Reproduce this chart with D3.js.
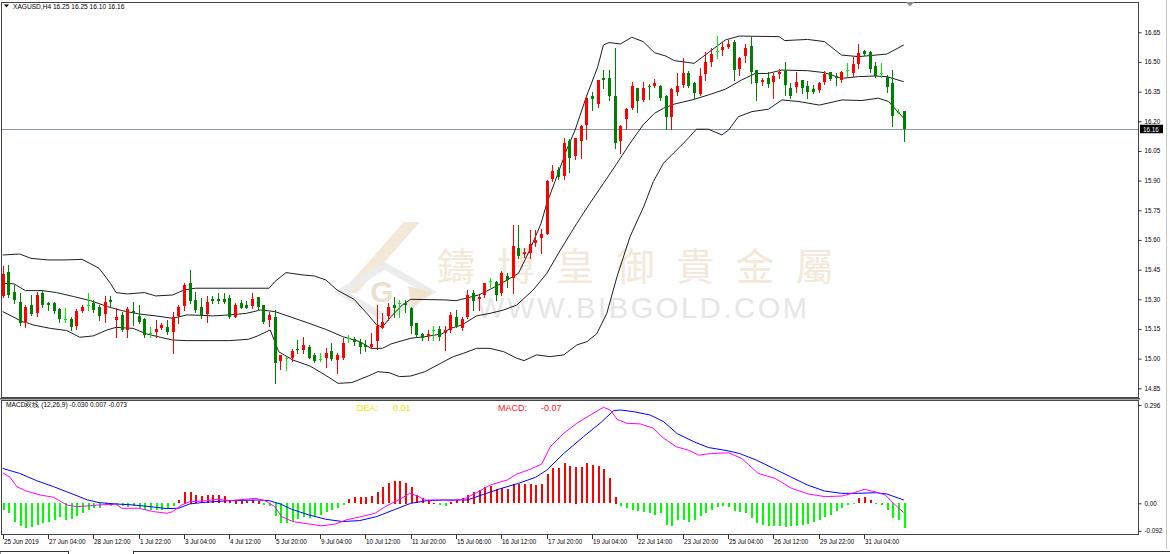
<!DOCTYPE html>
<html><head><meta charset="utf-8">
<script src="https://cdn.jsdelivr.net/npm/d3@7"></script>
<style>html,body{margin:0;padding:0;background:#fff;overflow:hidden}svg{display:block}</style>
</head><body>
<svg id="c" width="1170" height="554"></svg>
<script>
// ---------- DATA ----------
const symbolTitle = "XAGUSD,H4  16.25 16.25 16.10 16.16";
const macdTitle = "MACD双线 (12,26,9) -0.030 0.007 -0.073";
const lastPrice = 16.16;
const deaValueLabel = "0.01";
const macdValueLabel = "-0.07";

const opens = [15.32,15.437,15.339,15.288,15.187,15.271,15.233,15.33,15.283,15.283,15.25,15.202,15.199,15.165,15.243,15.271,15.283,15.263,15.226,15.297,
15.192,15.221,15.145,15.241,15.216,15.199,15.128,15.131,15.153,15.158,15.131,15.216,15.266,15.381,15.297,15.263,15.226,15.30,15.30,15.30,
15.305,15.212,15.283,15.271,15.266,15.31,15.271,15.196,15.209,14.99,15.002,15.002,15.047,15.044,15.061,15.019,15.00,15.002,15.04,14.993,
15.002,15.106,15.098,15.086,15.069,15.061,15.091,15.158,15.216,15.271,15.28,15.28,15.255,15.179,15.123,15.111,15.145,15.148,15.128,15.145,
15.209,15.157,15.209,15.33,15.303,15.322,15.39,15.386,15.33,15.418,15.406,15.558,15.529,15.533,15.587,15.608,15.634,15.912,15.954,15.92,
16.102,16.025,16.10,16.182,16.328,16.288,16.417,16.417,16.328,16.10,16.21,16.266,16.367,16.308,16.379,16.379,16.379,16.328,16.22,16.35,
16.384,16.446,16.392,16.338,16.439,16.502,16.557,16.557,16.577,16.603,16.463,16.527,16.581,16.459,16.40,16.417,16.40,16.44,16.456,16.367,
16.375,16.409,16.379,16.363,16.358,16.40,16.451,16.429,16.409,16.459,16.446,16.493,16.557,16.552,16.48,16.442,16.426,16.392,16.249,16.25];

const highs = [15.47,15.474,15.37,15.33,15.271,15.32,15.339,15.347,15.288,15.288,15.255,15.255,15.212,15.25,15.27,15.33,15.297,15.271,15.317,15.317,
15.255,15.238,15.26,15.288,15.271,15.204,15.158,15.196,15.179,15.196,15.238,15.271,15.384,15.448,15.339,15.305,15.317,15.317,15.33,15.33,
15.322,15.283,15.297,15.29,15.33,15.313,15.271,15.238,15.246,15.019,15.01,15.047,15.094,15.111,15.069,15.027,15.027,15.052,15.078,15.027,
15.103,15.12,15.111,15.098,15.094,15.128,15.271,15.233,15.283,15.31,15.297,15.297,15.263,15.179,15.128,15.145,15.165,15.165,15.165,15.238,
15.246,15.212,15.347,15.347,15.322,15.384,15.406,15.39,15.445,15.431,15.676,15.676,15.558,15.651,15.651,15.654,15.903,15.979,15.971,16.114,
16.109,16.114,16.182,16.325,16.35,16.409,16.459,16.459,16.569,16.182,16.266,16.40,16.367,16.40,16.389,16.412,16.384,16.333,16.367,16.442,
16.518,16.456,16.40,16.471,16.552,16.569,16.631,16.603,16.611,16.611,16.527,16.591,16.628,16.459,16.417,16.451,16.442,16.463,16.502,16.392,
16.451,16.409,16.405,16.384,16.40,16.456,16.451,16.442,16.456,16.493,16.527,16.591,16.56,16.557,16.502,16.493,16.434,16.459,16.26,16.252];

const lows = [15.31,15.313,15.28,15.17,15.158,15.22,15.216,15.263,15.246,15.233,15.187,15.187,15.145,15.148,15.238,15.246,15.238,15.196,15.187,15.263,
15.108,15.142,15.108,15.17,15.182,15.111,15.111,15.111,15.148,15.125,15.027,15.179,15.246,15.283,15.238,15.204,15.187,15.28,15.28,15.28,
15.204,15.209,15.255,15.255,15.255,15.246,15.182,15.165,14.875,14.95,14.943,14.99,15.027,15.03,15.002,14.985,14.99,14.956,14.993,14.926,
14.997,15.086,15.069,15.027,15.04,15.052,15.047,15.153,15.196,15.209,15.212,15.238,15.128,15.111,15.094,15.094,15.094,15.094,15.044,15.137,
15.16,15.145,15.205,15.246,15.246,15.313,15.364,15.297,15.322,15.364,15.33,15.507,15.516,15.507,15.57,15.536,15.63,15.90,15.907,15.907,
15.945,16.008,16.013,16.109,16.257,16.274,16.367,16.308,16.063,16.038,16.16,16.261,16.249,16.305,16.311,16.375,16.308,16.16,16.16,16.333,
16.375,16.372,16.317,16.333,16.409,16.48,16.518,16.535,16.569,16.409,16.434,16.502,16.392,16.308,16.384,16.375,16.317,16.417,16.333,16.317,
16.35,16.341,16.317,16.341,16.35,16.389,16.409,16.384,16.40,16.429,16.429,16.468,16.535,16.451,16.426,16.426,16.35,16.176,16.24,16.10];

const closes = [15.43,15.322,15.297,15.182,15.263,15.226,15.322,15.268,15.271,15.241,15.199,15.202,15.157,15.243,15.263,15.271,15.246,15.216,15.287,15.287,
15.209,15.145,15.25,15.229,15.187,15.116,15.128,15.148,15.17,15.131,15.209,15.263,15.373,15.288,15.246,15.221,15.288,15.288,15.288,15.285,
15.209,15.271,15.26,15.258,15.30,15.26,15.187,15.221,14.976,15.019,15.002,15.039,15.04,15.069,15.007,14.99,15.00,15.027,15.002,15.019,
15.078,15.106,15.081,15.061,15.057,15.074,15.165,15.187,15.263,15.255,15.28,15.268,15.165,15.12,15.103,15.123,15.145,15.108,15.145,15.221,
15.165,15.202,15.322,15.288,15.313,15.381,15.39,15.318,15.431,15.398,15.569,15.516,15.541,15.58,15.60,15.63,15.90,15.95,15.92,16.089,
16.018,16.114,16.178,16.32,16.311,16.409,16.409,16.325,16.089,16.178,16.262,16.379,16.30,16.367,16.372,16.392,16.317,16.22,16.362,16.379,
16.446,16.379,16.341,16.429,16.502,16.54,16.557,16.574,16.591,16.459,16.518,16.569,16.451,16.392,16.409,16.389,16.429,16.451,16.384,16.325,
16.40,16.367,16.35,16.35,16.392,16.439,16.417,16.417,16.451,16.459,16.49,16.547,16.54,16.468,16.429,16.442,16.375,16.227,16.249,16.16];

// Bollinger bands: [bar index, price]
const bbUpper = [[0,15.524],[3,15.529],[5,15.507],[8,15.499],[11,15.499],[14,15.502],[17,15.457],[19,15.381],[20,15.334],[22,15.327],[25,15.334],[27,15.317],[30,15.322],[32,15.347],[34,15.356],[47,15.356],[48,15.389],[50,15.435],[53,15.423],[55,15.418],[57,15.398],[59,15.347],[62,15.30],[64.5,15.221],[66,15.17],[67,15.16],[68.5,15.212],[70.5,15.271],[72,15.30],[78,15.297],[80,15.293],[81,15.30],[84,15.322],[86,15.35],[88,15.381],[91,15.431],[93,15.549],[95,15.684],[96,15.785],[98,15.937],[99.5,16.055],[101,16.156],[103,16.325],[105,16.476],[106,16.586],[107,16.598],[109,16.591],[111,16.625],[113,16.603],[115,16.547],[117,16.53],[118.5,16.507],[122,16.493],[124.5,16.547],[127.5,16.611],[130,16.631],[137,16.628],[138,16.608],[142,16.614],[145,16.603],[148,16.535],[151,16.527],[156,16.54],[159,16.586]];
const bbMiddle = [[0,15.381],[2,15.378],[4,15.344],[7,15.344],[9.5,15.334],[12.5,15.314],[15.5,15.293],[18.5,15.263],[21,15.243],[24,15.226],[27,15.216],[30,15.204],[32.5,15.221],[35,15.219],[37,15.216],[40,15.221],[43,15.229],[45.5,15.246],[48,15.238],[51,15.209],[54,15.179],[57,15.148],[60,15.111],[63,15.086],[65,15.052],[67,15.052],[68.5,15.074],[72,15.103],[74.5,15.111],[77.5,15.125],[79,15.153],[81,15.17],[83.6,15.216],[86,15.229],[88.4,15.246],[90.7,15.271],[93.6,15.347],[96,15.431],[98.4,15.549],[101.3,15.684],[103.6,15.785],[106,15.886],[108.4,15.988],[110.7,16.089],[113,16.182],[115,16.24],[116.6,16.266],[118.5,16.287],[121.6,16.308],[124.5,16.333],[127.5,16.362],[130.4,16.409],[132.8,16.442],[135,16.442],[137.5,16.459],[142,16.456],[145,16.446],[148,16.417],[151,16.426],[154,16.429],[156,16.426],[159,16.40]];
const bbLower = [[0,15.238],[2,15.209],[3.4,15.187],[4.2,15.182],[5.4,15.17],[8.4,15.153],[11.3,15.142],[13.6,15.108],[16,15.115],[18.4,15.145],[20,15.158],[23,15.153],[25.4,15.125],[27.8,15.108],[30,15.094],[32.5,15.091],[40,15.091],[43.4,15.098],[45,15.115],[47.2,15.145],[48.7,15.035],[51.2,14.993],[54.2,14.963],[56.9,14.917],[59.2,14.875],[61.6,14.879],[64.5,14.912],[66.2,14.934],[68.2,14.929],[70,14.909],[72,14.912],[74.5,14.934],[77.5,14.98],[79.5,15.010],[81.3,15.027],[83.6,15.052],[86,15.052],[88.4,15.035],[90.7,15.002],[92,14.99],[94.2,15.019],[96.6,15.01],[99,15.019],[101.3,15.069],[103.1,15.086],[104.8,15.125],[106.6,15.229],[108.4,15.415],[110.7,15.617],[113.1,15.768],[114.8,15.895],[116.6,15.988],[118.4,16.04],[120.4,16.097],[122.4,16.16],[124.5,16.16],[126.9,16.131],[128.1,16.156],[129.8,16.223],[132.2,16.249],[135.1,16.261],[137.5,16.308],[140.5,16.30],[144.1,16.282],[148.1,16.308],[151.6,16.305],[154.5,16.317],[156.3,16.30],[159,16.215]];

// MACD histogram, one value per bar
const macdHist = [-0.020,-0.030,-0.058,-0.070,-0.075,-0.073,-0.065,-0.060,-0.058,-0.050,-0.042,-0.050,-0.048,-0.040,-0.030,-0.020,-0.015,-0.015,-0.006,-0.010,
-0.005,-0.010,-0.013,-0.010,-0.015,-0.020,-0.020,-0.022,-0.020,-0.016,-0.008,0.010,0.035,0.035,0.025,0.022,0.025,0.025,0.025,0.022,
0.010,0.008,0.008,0.007,0.010,0.008,-0.005,-0.010,-0.040,-0.060,-0.060,-0.055,-0.048,-0.042,-0.045,-0.040,-0.035,-0.028,-0.022,-0.015,
-0.005,0.012,0.018,0.020,0.020,0.022,0.035,0.050,0.060,0.068,0.068,0.062,0.048,0.025,0.015,0.008,0.002,-0.005,-0.008,0.005,
0.010,0.015,0.025,0.035,0.040,0.048,0.052,0.042,0.045,0.042,0.058,0.058,0.058,0.058,0.055,0.058,0.088,0.105,0.105,0.120,
0.112,0.110,0.108,0.120,0.115,0.112,0.102,0.075,0.020,-0.010,-0.015,-0.020,-0.025,-0.028,-0.030,-0.035,-0.030,-0.065,-0.068,-0.050,
-0.052,-0.058,-0.050,-0.040,-0.030,-0.020,-0.013,-0.010,-0.012,-0.025,-0.028,-0.030,-0.045,-0.060,-0.065,-0.070,-0.070,-0.068,-0.072,-0.070,
-0.068,-0.066,-0.064,-0.058,-0.052,-0.042,-0.035,-0.025,-0.015,-0.005,-0.002,0.015,0.018,0.010,-0.002,-0.005,-0.020,-0.045,-0.050,-0.075];

// MACD (DIF, magenta) and signal (DEA, blue): [bar index, value]
const difLine = [[0,0.092],[1.3,0.078],[2.5,0.05],[4,0.038],[6.6,0.025],[9,0.018],[11.3,-0.005],[13,-0.010],[15,-0.008],[17,-0.005],[20,-0.003],[21,-0.015],[24,-0.015],[26.6,-0.025],[29,-0.030],[30,-0.025],[31.6,-0.005],[33,0.005],[36,0.008],[38,0.012],[40,0.008],[42.8,0.012],[44.5,0.015],[46.3,0.008],[48,-0.010],[49.2,-0.040],[51.2,-0.055],[53.9,-0.062],[56.3,-0.068],[58.8,-0.062],[60.6,-0.050],[62.8,-0.042],[65.7,-0.030],[67.5,-0.010],[70.4,0.015],[71.8,0.030],[73.2,0.022],[74.5,0.010],[77.5,0.010],[79,0.008],[81.3,0.012],[83.6,0.032],[86,0.055],[89,0.070],[90.7,0.088],[93,0.102],[95.1,0.118],[96.6,0.170],[99,0.211],[101.3,0.241],[103.7,0.266],[106,0.289],[107.2,0.281],[108.4,0.253],[110.1,0.241],[112.5,0.239],[114.8,0.226],[116.6,0.196],[118.9,0.170],[121,0.160],[122.8,0.145],[125.1,0.150],[128.1,0.152],[130.4,0.135],[133.3,0.090],[136.3,0.075],[139.2,0.045],[142.2,0.028],[145.1,0.020],[148.1,0.022],[149.9,0.030],[152,0.042],[153.9,0.035],[155.7,0.025],[157.5,-0.005],[159,-0.028]];
const deaLine = [[0,0.105],[3,0.090],[6,0.068],[9,0.050],[12,0.030],[15,0.010],[17,0.002],[20,-0.002],[23,-0.005],[26,-0.010],[29,-0.016],[31,-0.015],[33,-0.002],[35,0.002],[40,0.008],[45,0.010],[47,0.008],[49,-0.002],[51,-0.018],[54,-0.035],[57,-0.048],[60,-0.055],[63,-0.052],[66,-0.040],[69,-0.020],[72,0.000],[75,0.008],[78,0.010],[82,0.010],[85,0.028],[88,0.045],[91,0.060],[94,0.078],[96,0.100],[99,0.150],[102.5,0.201],[105.4,0.241],[107.8,0.279],[109,0.281],[111.3,0.276],[114.2,0.266],[116.6,0.246],[119,0.21],[122,0.185],[124.5,0.168],[128,0.158],[130,0.150],[133,0.130],[136,0.105],[139,0.080],[142,0.055],[145,0.037],[148,0.030],[151,0.030],[154,0.032],[156,0.028],[159,0.010]];

const priceTicks = [16.65,16.50,16.35,16.20,16.05,15.90,15.75,15.60,15.45,15.30,15.15,15.00,14.85];
const macdTicks = [0.296,0,-0.092];
const macdTickLabels = ["0.296","0.00","-0.092"];
const xLabels = ["25 Jun 2019","27 Jun 04:00","28 Jun 12:00","1 Jul 22:00","3 Jul 04:00","4 Jul 12:00","5 Jul 20:00","9 Jul 04:00","10 Jul 12:00","11 Jul 20:00","15 Jul 06:00","16 Jul 12:00","17 Jul 20:00","19 Jul 04:00","22 Jul 14:00","23 Jul 20:00","25 Jul 04:00","26 Jul 12:00","29 Jul 22:00","31 Jul 04:00"];
const xLabelBars = [0,8,16,24,32,40,48,56,64,72,80,88,96,104,112,120,128,136,144,152];
const watermarkChars = ["鑄","博","皇","御","貴","金","屬"];
const watermarkUrl = "WWW.BIBGOLD.COM";

// ---------- DRAW ----------
const svg = d3.select('#c');
const FONT = "'Liberation Sans', Arial, sans-serif";
const L = 1.5, R = 1138.5;
const x = d3.scaleLinear().domain([0,159]).range([2.7,903.8]);
const yP = d3.scaleLinear().domain([14.85,16.65]).range([388.3,32.3]);
const yM = d3.scaleLinear().domain([0,0.296]).range([503.3,405.0]);
const px = i => Math.round(x(i));

const defs = svg.append('defs');
defs.append('clipPath').attr('id','clipP').append('rect').attr('x',2).attr('y',3).attr('width',R-2).attr('height',394);
defs.append('clipPath').attr('id','clipM').append('rect').attr('x',2).attr('y',401).attr('width',R-2).attr('height',133);

// watermark
const wm = svg.append('g');
wm.append('polygon').attr('points','404,222 420,222 357,293 341,293').attr('fill','#f4e9d8');
wm.append('polygon').attr('points','341,292 385,266 430,292 385,318').attr('fill','none').attr('stroke','#ececec').attr('stroke-width',7);
wm.append('polygon').attr('points','408,286 432,292 412,309').attr('fill','#f1e4cf');
wm.append('text').attr('x',382).attr('y',302).attr('text-anchor','middle').attr('font-family',FONT).attr('font-weight','bold')
  .attr('font-size',30).attr('fill','#ebdfcd').text('G');
wm.selectAll('text.cj').data(watermarkChars).join('text').attr('class','cj')
  .attr('x',(d,i)=>456+i*59.8).attr('y',280).attr('text-anchor','middle')
  .attr('font-family',"'Noto Sans CJK TC','Noto Sans CJK SC',sans-serif").attr('font-size',38)
  .attr('fill','#f3e8d9').text(d=>d);
wm.append('text').attr('x',477).attr('y',318).attr('font-family',FONT).attr('font-size',29)
  .attr('textLength',330).attr('lengthAdjust','spacing').attr('fill','#e6e6e6').text(watermarkUrl);

// price panel
const gP = svg.append('g').attr('clip-path','url(#clipP)');
gP.append('line').attr('x1',L).attr('x2',R).attr('y1',Math.round(yP(lastPrice))+0.5).attr('y2',Math.round(yP(lastPrice))+0.5)
  .attr('stroke','#8a96a3').attr('stroke-width',1);
const lineGen = sc => d3.line().x(d=>x(d[0])).y(d=>sc(d[1]));
[bbUpper,bbMiddle,bbLower].forEach(b=>{
  gP.append('path').datum(b).attr('d',lineGen(yP)).attr('fill','none').attr('stroke','#1e1e1e').attr('stroke-width',1);
});
const bars = opens.map((o,i)=>({i,o,h:highs[i],l:lows[i],c:closes[i]}));
const col = d => d.c>d.o ? '#ff0000' : (d.c<d.o ? '#008000' : '#00ee00');
const cg = gP.append('g').attr('shape-rendering','crispEdges');
cg.selectAll('line').data(bars).join('line')
  .attr('x1',d=>px(d.i)+0.5).attr('x2',d=>px(d.i)+0.5)
  .attr('y1',d=>Math.round(yP(d.h))).attr('y2',d=>Math.round(yP(d.l))+1)
  .attr('stroke',col).attr('stroke-width',1);
cg.selectAll('rect').data(bars).join('rect')
  .attr('x',d=>px(d.i)-1).attr('width',3)
  .attr('y',d=>Math.round(yP(Math.max(d.o,d.c))))
  .attr('height',d=>Math.max(1,Math.round(Math.abs(yP(d.o)-yP(d.c)))))
  .attr('fill',col);

// macd panel
const gM = svg.append('g').attr('clip-path','url(#clipM)');
gM.append('g').attr('shape-rendering','crispEdges').selectAll('rect').data(macdHist).join('rect')
  .attr('x',(d,i)=>px(i)).attr('width',2)
  .attr('y',d=>Math.round(Math.min(yM(d),yM(0))))
  .attr('height',d=>Math.max(1,Math.round(Math.abs(yM(d)-yM(0)))))
  .attr('fill',d=>d>=0?'#ff0000':'#00ff00');
gM.append('path').datum(deaLine).attr('d',lineGen(yM)).attr('fill','none').attr('stroke','#0000ff').attr('stroke-width',1);
gM.append('path').datum(difLine).attr('d',lineGen(yM)).attr('fill','none').attr('stroke','#ff00ff').attr('stroke-width',1);

// frames
const fr = svg.append('g').attr('fill','none').attr('shape-rendering','crispEdges');
fr.append('rect').attr('x',L).attr('y',2.5).attr('width',R-L).attr('height',395).attr('stroke','#444');
fr.append('line').attr('x1',0).attr('x2',R+1).attr('y1',398.5).attr('y2',398.5).attr('stroke','#555').attr('stroke-width',1);
fr.append('line').attr('x1',0).attr('x2',R+1).attr('y1',399.5).attr('y2',399.5).attr('stroke','#aaa').attr('stroke-width',1);
fr.append('rect').attr('x',L).attr('y',400.5).attr('width',R-L).attr('height',134).attr('stroke','#444');
fr.append('line').attr('x1',1166.5).attr('x2',1166.5).attr('y1',0).attr('y2',549).attr('stroke','#c8c8c8');
// bottom tab strip
fr.append('path').attr('d','M0,551.5H68.5V554 M133.5,554V551.5H1170').attr('stroke','#333');
fr.append('path').attr('d','M0.5,551.5V554').attr('stroke','#999');

// shift marker
svg.append('polygon').attr('points','906,2 914,2 910,6.5').attr('fill','#8a8a8a');

// title
svg.append('polygon').attr('points','4,4.5 9,4.5 6.5,7.5').attr('fill','#000');
svg.append('text').attr('x',13).attr('y',8.6).attr('font-family',FONT).attr('font-size',6.6).attr('fill','#000').text(symbolTitle);
svg.append('text').attr('x',6).attr('y',406.8).attr('font-family',FONT).attr('font-size',6.6).attr('fill','#000').text(macdTitle);
svg.append('text').attr('x',357).attr('y',410.6).attr('font-family',FONT).attr('font-size',9).attr('fill','#e8e800').text('DEA:');
svg.append('text').attr('x',393).attr('y',410.6).attr('font-family',FONT).attr('font-size',9).attr('fill','#e8e800').text(deaValueLabel);
svg.append('text').attr('x',498).attr('y',410.6).attr('font-family',FONT).attr('font-size',9).attr('fill','#ff2020').text('MACD:');
svg.append('text').attr('x',541).attr('y',410.6).attr('font-family',FONT).attr('font-size',9).attr('fill','#ff2020').text(macdValueLabel);

// right price axis
const pa = svg.append('g').attr('transform',`translate(${R},0)`)
  .call(d3.axisRight(yP).tickValues(priceTicks).tickSize(3).tickPadding(3).tickFormat(d3.format('.2f')));
pa.select('.domain').remove();
pa.attr('font-family',FONT).attr('font-size',6.3);
pa.selectAll('line').attr('stroke','#333');
pa.selectAll('text').attr('fill','#000');
// last price tag
const yl = yP(lastPrice);
svg.append('rect').attr('x',1140).attr('y',yl-4.5).attr('width',23).attr('height',8.5).attr('fill','#000');
svg.append('text').attr('x',1143).attr('y',yl+2.3).attr('font-family',FONT).attr('font-size',6.3).attr('fill','#fff').text(lastPrice.toFixed(2));

// macd axis
const ma = svg.append('g').attr('transform',`translate(${R},0)`)
  .call(d3.axisRight(yM).tickValues(macdTicks).tickSize(3).tickPadding(3).tickFormat((d,i)=>macdTickLabels[i]));
ma.select('.domain').remove();
ma.attr('font-family',FONT).attr('font-size',6.3);
ma.selectAll('line').attr('stroke','#333');
ma.selectAll('.tick').filter(d=>d<0).attr('transform',`translate(0,${yM(-0.092)-2.5})`);

// bottom time axis
const xa = svg.append('g');
xa.selectAll('line').data(xLabelBars).join('line')
  .attr('x1',d=>px(d)+0.5).attr('x2',d=>px(d)+0.5).attr('y1',535).attr('y2',538.5)
  .attr('stroke','#333').attr('shape-rendering','crispEdges');
xa.selectAll('text').data(xLabels).join('text')
  .attr('x',(d,i)=>px(xLabelBars[i])+1).attr('y',544).attr('font-family',FONT).attr('font-size',6.3).attr('fill','#000').text(d=>d);
</script>
</body></html>
